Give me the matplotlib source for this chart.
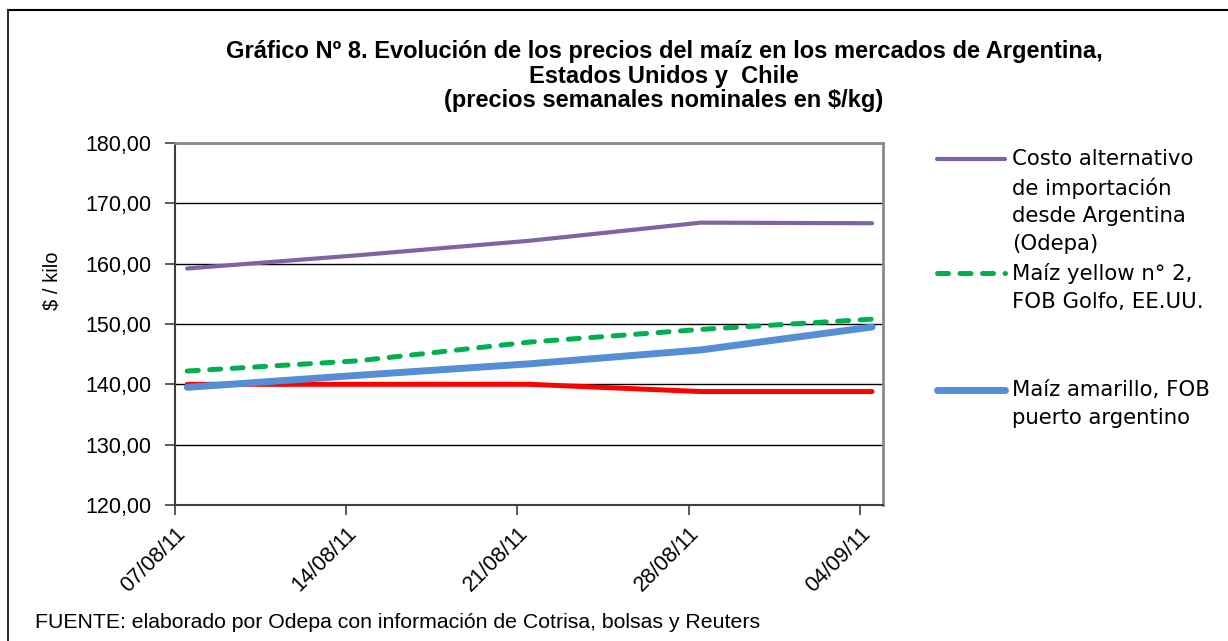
import matplotlib.pyplot as plt
from matplotlib.lines import Line2D
import numpy as np

# fechas (dias desde 07/08/11) y etiquetas
dias = [0, 7, 14, 21, 28]
fechas = ["07/08/11", "14/08/11", "21/08/11", "28/08/11", "04/09/11"]

# precios semanales ($/kg)
costo_arg = [159.2, 161.4, 163.8, 166.8, 166.7]
yellow_usa = [142.2, 143.9, 147.0, 149.1, 150.8]
amarillo_arg = [139.5, 141.5, 143.4, 145.7, 149.5]
chile = [140.0, 140.0, 140.0, 138.8, 138.8]

etiquetas = [
    "Costo alternativo\nde importación\ndesde Argentina\n(Odepa)",
    "Maíz yellow n° 2,\nFOB Golfo, EE.UU.",
    "Maíz amarillo, FOB\npuerto argentino",
]

plt.rcParams["font.family"] = ["Liberation Sans", "DejaVu Sans"]

fig = plt.figure(figsize=(12.28, 6.41), dpi=100)
ax = fig.add_axes([0.1425, 0.2122, 0.5766, 0.5647])

x = np.array(dias) + 0.5
ax.plot(x, chile, color="#FF0000", lw=3.6, solid_capstyle="round", zorder=3)
ax.plot(x, amarillo_arg, color="#558ED5", lw=5, solid_capstyle="round", zorder=4)
ax.plot(x, yellow_usa, color="#00B050", lw=3.6, dashes=(2.2, 2.3),
        dash_capstyle="round", zorder=5)
ax.plot(x, costo_arg, color="#8064A2", lw=3, solid_capstyle="round", zorder=6)

ax.set_xlim(0, 28.95)
ax.set_ylim(120, 180)
ax.set_yticks(np.arange(120, 181, 10))
ax.set_yticklabels([f"{v:.2f}".replace(".", ",") for v in np.arange(120, 181, 10)])
ax.set_xticks(dias)
ax.set_xticklabels(fechas, rotation=45, ha="right", rotation_mode="anchor")
ax.tick_params(axis="both", labelsize=15.5, direction="out", length=7,
               width=1.2, color="#404040")
ax.tick_params(axis="y", pad=10)
ax.tick_params(axis="x", pad=6)
ax.grid(axis="y", color="black", lw=1)
ax.set_axisbelow(True)
for s in ["top", "right"]:
    ax.spines[s].set_color("#8a8a8a")
    ax.spines[s].set_linewidth(2)
for s in ["left", "bottom"]:
    ax.spines[s].set_color("#404040")
    ax.spines[s].set_linewidth(1.5)

ax.set_ylabel("$ / kilo", fontsize=14.5)
ax.yaxis.set_label_coords(-0.16, 0.62)

fig.text(664 / 1228, 1 - 76 / 641,
         "Gráfico Nº 8. Evolución de los precios del maíz en los mercados de Argentina,\n"
         "Estados Unidos y  Chile\n(precios semanales nominales en $/kg)",
         ha="center", va="center", fontsize=17, fontweight="bold",
         linespacing=1.1)

# leyenda manual (handles alineados con la primera linea de cada texto)
leg_items = [("#8064A2", "-", 3, 159), ("#00B050", "--", 3.6, 273),
             ("#558ED5", "-", 5, 390)]
for (col, ls, lw, ypx), lab in zip(leg_items, etiquetas):
    yf = 1 - ypx / 641
    ln = Line2D([937 / 1228, 1005 / 1228], [yf, yf], color=col, lw=lw,
                transform=fig.transFigure, solid_capstyle="round")
    if ls == "--":
        ln.set_dashes((2.2, 2.3))
        ln.set_dash_capstyle("round")
    fig.add_artist(ln)
    fig.text(1012 / 1228, yf + 10 / 641, lab, ha="left", va="top",
             fontsize=15.3, family="DejaVu Sans", linespacing=1.47)

fig.text(35 / 1228, 1 - 622 / 641,
         "FUENTE: elaborado por Odepa con información de Cotrisa, bolsas y Reuters",
         ha="left", va="center", fontsize=15.3)

# marco exterior
fig.add_artist(Line2D([8 / 1228, 1], [1 - 10 / 641, 1 - 10 / 641],
                      color="black", lw=1.5, transform=fig.transFigure))
fig.add_artist(Line2D([8 / 1228, 8 / 1228], [0, 1 - 10 / 641],
                      color="#333333", lw=1.5, transform=fig.transFigure))

fig.savefig("out.png", dpi=100)
